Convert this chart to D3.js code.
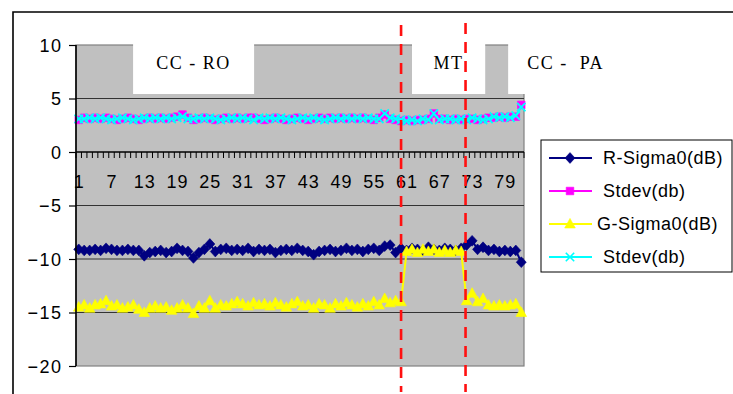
<!DOCTYPE html>
<html>
<head>
<meta charset="utf-8">
<script src="https://cdn.jsdelivr.net/npm/d3@7"></script>
<style>
  html, body { margin: 0; padding: 0; background: #fff; }
  svg { display: block; }
  .sans { font-family: "Liberation Sans", Arial, sans-serif; fill: #000; }
  .serif { font-family: "Liberation Serif", "Times New Roman", serif; fill: #000; white-space: pre; }
</style>
</head>
<body>
<svg id="chart" width="733" height="394"></svg>
<script>
// Sample numbers along the transect (category axis)
const categories = d3.range(1, 83);

// Tick labels shown along the category axis
const xTickLabels = [1, 7, 13, 19, 25, 31, 37, 43, 49, 55, 61, 67, 73, 79];
const yTickValues = [10, 5, 0, -5, -10, -15, -20];

// R-band backscatter (dB)
const rSigma0 = [
  -9.1, -9.2, -9.2, -9.1, -9.2, -9.0, -9.1, -9.2, -9.2, -9.1, -9.2, -9.2,
  -9.7, -9.4, -9.3, -9.2, -9.4, -9.3, -9.0, -9.2, -9.3, -9.9, -9.4, -9.1,
  -8.6, -9.3, -9.1, -9.0, -9.2, -9.1, -9.2, -9.0, -9.3, -9.1, -9.2, -9.1,
  -9.4, -9.2, -9.1, -9.2, -9.0, -9.2, -9.3, -9.6, -9.3, -9.2, -9.1, -9.3,
  -9.2, -9.0, -9.2, -9.1, -9.3, -9.1, -9.0, -9.2, -8.8, -8.7, -9.4, -9.0,
  -9.2, -9.0, -9.1, -9.2, -8.9, -9.1, -9.2, -9.0, -9.1, -9.2, -9.0, -8.7,
  -8.3, -9.1, -8.9, -9.2, -9.1, -9.3, -9.2, -9.3, -9.2, -10.3
];

// Standard deviation of the R-band samples (dB)
const rStdev = [
  3.0, 3.2, 3.1, 3.2, 3.1, 3.2, 3.1, 3.0, 3.1, 3.2, 3.1, 3.0,
  3.1, 3.2, 3.1, 3.2, 3.1, 3.2, 3.3, 3.5, 3.2, 3.0, 3.1, 3.2,
  3.1, 3.0, 3.1, 3.2, 3.1, 3.2, 3.1, 3.2, 3.2, 3.1, 3.0, 3.1,
  3.2, 3.1, 3.0, 3.1, 3.2, 3.1, 3.0, 3.1, 3.2, 3.1, 3.2, 3.1,
  3.2, 3.1, 3.2, 3.1, 3.2, 3.1, 3.0, 3.2, 3.5, 3.1, 3.0, 2.9,
  3.0, 2.9, 3.0, 3.0, 3.1, 3.6, 3.1, 3.1, 3.0, 3.1, 3.0, 3.1,
  3.1, 3.0, 3.1, 3.2, 3.2, 3.3, 3.2, 3.3, 3.3, 4.4
];

// G-band backscatter (dB)
const gSigma0 = [
  -14.5, -14.3, -14.6, -14.3, -14.2, -13.9, -14.4, -14.3, -14.6, -14.5, -14.3, -14.7,
  -15.0, -14.6, -14.4, -14.6, -14.5, -14.8, -14.6, -14.3, -14.6, -15.1, -14.4, -14.6,
  -13.9, -14.6, -14.3, -14.4, -14.2, -14.0, -14.2, -14.4, -14.1, -14.3, -14.2, -14.4,
  -14.1, -14.3, -14.5, -14.2, -14.0, -14.4, -14.3, -14.6, -14.2, -14.3, -14.6, -14.2,
  -14.4, -14.1, -14.3, -14.5, -14.2, -14.4, -14.0, -14.3, -13.7, -14.1, -13.9, -14.0,
  -9.3, -9.1, -9.4, -9.1, -9.3, -9.1, -9.4, -9.2, -9.4, -9.2, -9.3,
  -13.9, -13.2, -14.0, -13.7, -14.3, -14.4, -14.3, -14.4, -14.3, -14.2, -15.0
];

// Standard deviation of the G-band samples (dB)
const gStdev = [
  3.1, 3.1, 3.2, 3.1, 3.2, 3.1, 3.0, 3.1, 3.2, 3.1, 3.0, 3.1,
  3.2, 3.1, 3.2, 3.1, 3.2, 3.1, 3.2, 3.3, 3.1, 3.1, 3.2, 3.1,
  3.2, 3.1, 3.0, 3.1, 3.2, 3.1, 3.2, 3.1, 3.0, 3.2, 3.1, 3.2,
  3.1, 3.2, 3.1, 3.0, 3.1, 3.2, 3.1, 3.2, 3.1, 3.0, 3.1, 3.2,
  3.1, 3.2, 3.1, 3.2, 3.1, 3.2, 3.1, 3.1, 3.6, 3.2, 3.1, 3.0,
  2.9, 3.0, 2.9, 3.1, 3.0, 3.6, 3.0, 3.1, 3.1, 3.0, 3.1, 3.0,
  3.2, 3.1, 3.0, 3.1, 3.3, 3.2, 3.3, 3.2, 3.4, 4.2
];

// Series names as they appear in the legend
const seriesNames = ["R-Sigma0(dB)", "Stdev(db)", "G-Sigma0(dB)", "Stdev(db)"];

// Land-cover zones along the transect and the category where each boundary falls
const zoneLabels = ["CC - RO", "MT", "CC -  PA"];
const zoneBoundaries = [60, 71.8];

// ---------------------------------------------------------------------------
const series = [
  { name: seriesNames[0], values: rSigma0, color: "#000080", marker: "diamond" },
  { name: seriesNames[1], values: rStdev,  color: "#ff00ff", marker: "square" },
  { name: seriesNames[2], values: gSigma0, color: "#ffff00", marker: "triangle" },
  { name: seriesNames[3], values: gStdev,  color: "#00ffff", marker: "cross" }
];

const svg = d3.select("#chart");
const plot = { left: 76, right: 524, top: 45, bottom: 366 };

const x = d3.scaleBand().domain(categories).range([plot.left, plot.right]).padding(0);
const xc = c => x(c) + x.bandwidth() / 2;
// continuous position for boundaries given in category units
const xCat = d3.scaleLinear().domain([1, categories.length]).range([xc(1), xc(categories.length)]);
const y = d3.scaleLinear().domain([-20, 10]).range([plot.bottom, plot.top]);

// outer chart frame (top and left edges visible)
svg.append("path")
  .attr("d", "M13,394V12H733")
  .attr("fill", "none").attr("stroke", "#000").attr("stroke-width", 1.6);

// plot area
svg.append("rect")
  .attr("x", plot.left).attr("y", plot.top)
  .attr("width", plot.right - plot.left).attr("height", plot.bottom - plot.top)
  .attr("fill", "#c0c0c0").attr("stroke", "#808080").attr("stroke-width", 1.2);

// horizontal gridlines
svg.append("g")
  .selectAll("line")
  .data(yTickValues.filter(v => v !== 10 && v !== -20 && v !== 0))
  .join("line")
  .attr("x1", plot.left).attr("x2", plot.right)
  .attr("y1", d => y(d)).attr("y2", d => y(d))
  .attr("stroke", "#333").attr("stroke-width", 1.2);

// white zone label boxes over the top of the plot
const boxTop = y(10) - 1.5, boxBottom = y(5) - 4.5;
const zoneBoxes = [
  { x0: xCat(10.95), x1: xCat(33.1), label: zoneLabels[0] },
  { x0: xCat(62.0), x1: xCat(75.4), label: zoneLabels[1] },
  { x0: xCat(79.6), x1: xCat(83.5), label: zoneLabels[2] }
];
svg.append("g").selectAll("rect")
  .data(zoneBoxes)
  .join("rect")
  .attr("x", d => d.x0).attr("y", boxTop)
  .attr("width", d => d.x1 - d.x0).attr("height", boxBottom - boxTop)
  .attr("fill", "#fff");

// zone labels
const labelY = y(10) + 24;
svg.append("text").attr("class", "serif")
  .attr("x", (zoneBoxes[0].x0 + zoneBoxes[0].x1) / 2).attr("y", labelY)
  .attr("text-anchor", "middle").attr("font-size", 18).attr("letter-spacing", 1.5)
  .text(zoneBoxes[0].label);
svg.append("text").attr("class", "serif")
  .attr("x", (zoneBoxes[1].x0 + zoneBoxes[1].x1) / 2).attr("y", labelY)
  .attr("text-anchor", "middle").attr("font-size", 18).attr("letter-spacing", 1.5)
  .text(zoneBoxes[1].label);
svg.append("text").attr("class", "serif")
  .attr("x", zoneBoxes[2].x0 + 19).attr("y", labelY)
  .attr("font-size", 18).attr("letter-spacing", 1.5)
  .text(zoneBoxes[2].label);

// marker shapes
function markerPath(type) {
  switch (type) {
    case "diamond": return "M0,-5.4L5,0L0,5.4L-5,0Z";
    case "square": return "M-3.8,-3.8H3.8V3.8H-3.8Z";
    case "triangle": return "M0,-5.6L5.3,4H-5.3Z";
    case "cross": return "M-4.2,-4.2L4.2,4.2M4.2,-4.2L-4.2,4.2";
  }
}

const line = d3.line().x((d, i) => xc(categories[i])).y(d => y(d));

series.forEach(s => {
  const g = svg.append("g");
  g.append("path")
    .attr("d", line(s.values))
    .attr("fill", "none").attr("stroke", s.color).attr("stroke-width", 2);
  g.selectAll("path.m")
    .data(s.values)
    .join("path")
    .attr("class", "m")
    .attr("transform", (d, i) => `translate(${xc(categories[i])},${y(d)})`)
    .attr("d", markerPath(s.marker))
    .attr("fill", s.marker === "cross" ? "none" : s.color)
    .attr("stroke", s.color)
    .attr("stroke-width", s.marker === "cross" ? 1.8 : 0.6);
});

// category axis crossing at zero, with a tick between each category
const xAxis = d3.axisBottom(x)
  .tickValues(categories)
  .tickSize(0)
  .tickFormat("");
const xAxisG = svg.append("g").attr("transform", `translate(0,${y(0)})`).call(xAxis);
xAxisG.select(".domain").remove();
xAxisG.append("line")
  .attr("x1", plot.left).attr("x2", plot.right)
  .attr("stroke", "#000").attr("stroke-width", 1.4);
xAxisG.append("g").selectAll("line")
  .data(d3.range(categories.length + 1))
  .join("line")
  .attr("x1", i => plot.left + i * x.bandwidth()).attr("x2", i => plot.left + i * x.bandwidth())
  .attr("y1", 0).attr("y2", 6)
  .attr("stroke", "#000").attr("stroke-width", 1);
xAxisG.append("g").selectAll("text")
  .data(xTickLabels)
  .join("text")
  .attr("class", "sans")
  .attr("x", d => xc(d) + 0.5).attr("y", 36)
  .attr("text-anchor", "middle").attr("font-size", 18).attr("letter-spacing", 1)
  .text(d => d);

// value axis
const yAxis = d3.axisLeft(y).tickValues(yTickValues).tickSize(7).tickPadding(7);
const yAxisG = svg.append("g").attr("transform", `translate(${plot.left},0)`).call(yAxis);
yAxisG.select(".domain").attr("stroke", "#000").attr("stroke-width", 1.6).attr("d", `M0,${plot.top}V${plot.bottom}`);
yAxisG.selectAll(".tick line").attr("stroke", "#000").attr("stroke-width", 1.2);
yAxisG.selectAll(".tick text")
  .attr("class", "sans")
  .attr("font-size", 18)
  .attr("letter-spacing", 1.5)
  .attr("dx", 0.5)
  .attr("dy", "0.36em")
  .style("font-family", '"Liberation Sans", Arial, sans-serif')
  .attr("fill", "#000");

// dashed zone boundaries
svg.append("g").selectAll("line")
  .data(zoneBoundaries)
  .join("line")
  .attr("x1", d => xCat(d)).attr("x2", d => xCat(d))
  .attr("y1", (d, i) => y(10) - 20 + i * -2).attr("y2", y(-20) + 26)
  .attr("stroke", "#ff1010").attr("stroke-width", 2.6)
  .attr("stroke-dasharray", "11,8");

// legend
const legend = svg.append("g").attr("transform", "translate(541,140)");
legend.append("rect")
  .attr("x", 0).attr("y", 0).attr("width", 191).attr("height", 132)
  .attr("fill", "#fff").attr("stroke", "#000").attr("stroke-width", 1);
const entries = legend.selectAll("g.entry")
  .data(series)
  .join("g")
  .attr("class", "entry")
  .attr("transform", (d, i) => `translate(0,${18 + i * 33})`);
entries.append("line")
  .attr("x1", 8).attr("x2", 51)
  .attr("stroke", d => d.color).attr("stroke-width", 2);
entries.append("path")
  .attr("transform", "translate(29,0)")
  .attr("d", d => markerPath(d.marker))
  .attr("fill", d => d.marker === "cross" ? "none" : d.color)
  .attr("stroke", d => d.color)
  .attr("stroke-width", d => d.marker === "cross" ? 1.6 : 0.6);
entries.append("text")
  .attr("class", "sans")
  .attr("x", (d, i) => i === 2 ? 56 : 62)
  .attr("y", 0).attr("dy", "0.36em")
  .attr("font-size", 18).attr("letter-spacing", 0.5)
  .text(d => d.name);
</script>
</body>
</html>
